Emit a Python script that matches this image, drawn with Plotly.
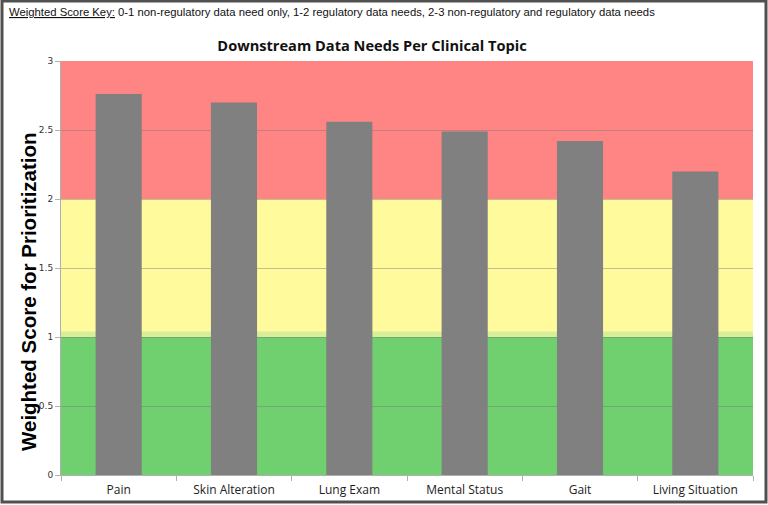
import plotly.graph_objects as go

topics = ["Pain", "Skin Alteration", "Lung Exam", "Mental Status", "Gait", "Living Situation"]
scores = [2.76, 2.70, 2.56, 2.49, 2.42, 2.20]

# band edges and colours (green 0-1, yellow 1-2, red 2-3)
band_edges = [0, 1, 2, 3]
band_colors = ["#70d070", "#fffb9c", "#ff8585"]

W, H = 768, 505
ml, mr, mt, mb = 61, 15, 61, 30
pw, ph = W - ml - mr, H - mt - mb

fig = go.Figure()
fig.add_trace(go.Bar(x=topics, y=scores, marker_color="#808080",
                     marker_line_width=0, width=0.4))

for i, c in enumerate(band_colors):
    fig.add_shape(type="rect", xref="paper", yref="y", x0=0, x1=1,
                  y0=band_edges[i], y1=band_edges[i + 1],
                  fillcolor=c, line_width=0, layer="below")
# soft blend just above the green band
fig.add_shape(type="rect", xref="paper", yref="y", x0=0, x1=1, y0=1.0, y1=1.04,
              fillcolor="#d8ee98", line_width=0, layer="below")

# outer frame (pixel -> paper coords)
fig.add_shape(type="rect", xref="paper", yref="paper",
              x0=(2 - ml) / pw, x1=(W - 2 - ml) / pw,
              y0=(H - mb - (H - 3)) / ph, y1=(H - mb - 1) / ph,
              line=dict(color="#505050", width=3), fillcolor="rgba(0,0,0,0)")

fig.add_annotation(xref="paper", yref="paper", x=(7 - ml) / pw, y=(H - mb - 12) / ph,
                   xanchor="left", yanchor="middle", showarrow=False,
                   text="<u>Weighted Score Key:</u> 0-1 non-regulatory data need only, "
                        "1-2 regulatory data needs, 2-3 non-regulatory and regulatory data needs",
                   font=dict(family="Liberation Sans, Arial", size=11.3, color="#111"))

fig.add_annotation(xref="paper", yref="paper", x=(28 - ml) / pw, y=(H - mb - 292) / ph,
                   xanchor="center", yanchor="middle", showarrow=False, textangle=-90,
                   text="<b>Weighted Score for Prioritization</b>",
                   font=dict(family="Liberation Sans, Arial", size=20.5, color="#000"))

fig.update_layout(
    width=W, height=H,
    margin=dict(l=ml, r=mr, t=mt, b=mb, autoexpand=False),
    paper_bgcolor="white", plot_bgcolor="white",
    showlegend=False, bargap=0.6,
    title=dict(text="<b>Downstream Data Needs Per Clinical Topic</b>",
               x=372 / W, xanchor="center", xref="container",
               y=1 - 46 / H, yanchor="middle",
               font=dict(family="Open Sans, Noto Sans", size=14.6, color="#111")),
)
fig.update_yaxes(range=[0, 3], dtick=0.5, showgrid=True, gridcolor="rgba(120,120,120,0.45)",
                 gridwidth=1, zeroline=False, showline=True, linecolor="#b0b0b0",
                 ticks="outside", ticklen=5, tickcolor="#b0b0b0", automargin=False,
                 tickfont=dict(family="DejaVu Sans", size=9, color="#333"))
fig.update_xaxes(showgrid=False, showline=True, linecolor="#b0b0b0", tickson="boundaries",
                 ticks="outside", ticklen=5, tickcolor="#b0b0b0", ticklabelstandoff=4,
                 automargin=False,
                 tickfont=dict(family="Open Sans, Noto Sans", size=12, color="#222"))

fig.write_html("out.html", config={"displayModeBar": False},
               post_script="document.body.style.margin='0';")
